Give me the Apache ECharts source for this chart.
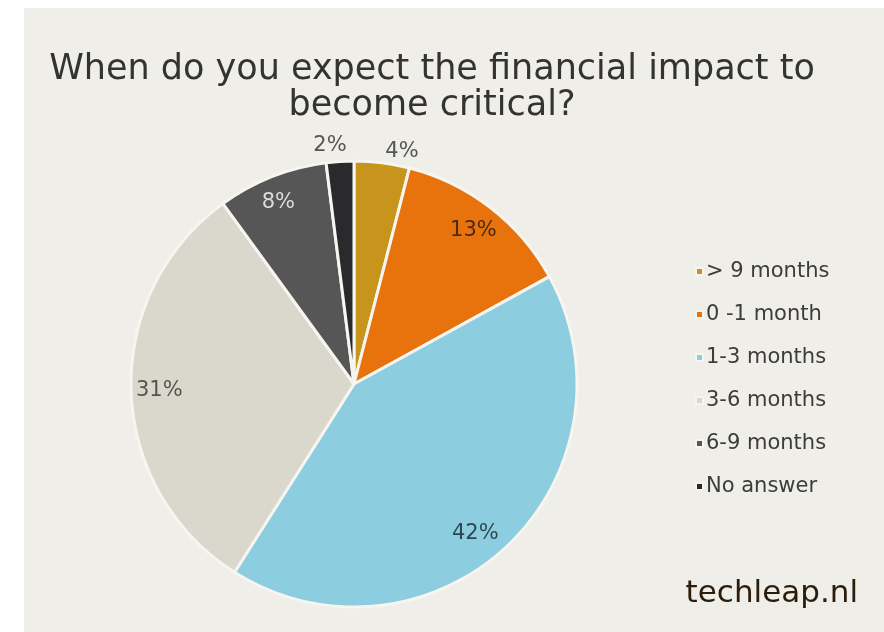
<!DOCTYPE html>
<html>
<head>
<meta charset="utf-8">
<script src="https://cdn.jsdelivr.net/npm/echarts@6/dist/echarts.min.js"></script>
<style>
html, body { margin: 0; padding: 0; background: #ffffff; }
#chart { width: 884px; height: 632px; }
</style>
</head>
<body>
<div id="chart"></div>
<script>
var categories = ['> 9 months', '0 -1 month', '1-3 months', '3-6 months', '6-9 months', 'No answer'];
var shares = [4, 13, 42, 31, 8, 2];
var colors = ['#c8951c', '#e8720c', '#8dcde0', '#dad7cc', '#555655', '#2a2a2d'];
var labelColors = ['#555555', '#4a2a10', '#2c4854', '#555550', '#dcdcd8', '#555555'];

var FONT = '"DejaVu Sans", sans-serif';
var center = [354, 384];
var R = 223;
var BG = '#efeee8';

// labels in the picture are not exactly at slice middles, nudge a bit
var labelPad = {
    '> 9 months': [0, 0, 0, 36],
    'No answer': [0, 18, 0, 0],
    '1-3 months': [0, 24, 0, 0],
    '6-9 months': [0, 8, 0, 0]
};
// pushing a label down: blank first line of given height
var labelDrop = { '1-3 months': 16, '> 9 months': 10 };

function makeData(filter) {
    return categories.map(function (name, i) {
        var label = {
            show: filter(shares[i]),
            color: labelColors[i],
            padding: labelPad[name] || 0
        };
        if (labelDrop[name]) {
            label.formatter = '\n{c}%';
            label.lineHeight = labelDrop[name];
        }
        return { name: name, value: shares[i], label: label };
    });
}

var chart = echarts.init(document.getElementById('chart'));

chart.setOption({
    backgroundColor: '#ffffff',
    color: colors,
    graphic: [{
        type: 'rect',
        z: -10,
        shape: { x: 24, y: 8, width: 860, height: 624 },
        style: { fill: BG }
    }, {
        type: 'text',
        right: 26,
        top: 578,
        style: {
            text: 'techleap.nl',
            font: '31px "DejaVu Sans", sans-serif',
            fill: '#2a1d0c'
        }
    }],
    title: {
        text: 'When do you expect the financial impact to\nbecome critical?',
        left: 427,
        top: 47,
        textAlign: 'center',
        textStyle: {
            fontFamily: FONT,
            fontSize: 35,
            fontWeight: 'normal',
            color: '#333333',
            lineHeight: 36
        }
    },
    legend: {
        orient: 'vertical',
        left: 690,
        top: 256,
        icon: 'rect',
        itemWidth: 7,
        itemHeight: 7,
        itemGap: 22,
        selectedMode: false,
        data: categories,
        textStyle: {
            fontFamily: FONT,
            fontSize: 21,
            color: '#3c3c3c',
            padding: [0, 0, 0, -2]
        }
    },
    series: [{
        type: 'pie',
        center: center,
        radius: [0, R],
        startAngle: 90,
        clockwise: true,
        silent: true,
        animation: false,
        label: { show: false },
        labelLine: { show: false },
        itemStyle: { borderColor: '#f6f5f0', borderWidth: 3 },
        data: categories.map(function (name, i) { return { name: name, value: shares[i] }; })
    }, {
        type: 'pie',
        center: center,
        radius: [R * 0.72, R],
        startAngle: 90,
        silent: true,
        animation: false,
        legendHoverLink: false,
        itemStyle: { color: 'rgba(0,0,0,0)' },
        label: {
            position: 'inside',
            formatter: '{c}%',
            fontFamily: FONT,
            fontSize: 21
        },
        labelLine: { show: false },
        data: makeData(function (v) { return v >= 8; })
    }, {
        type: 'pie',
        center: center,
        radius: [R, R + 26],
        startAngle: 90,
        silent: true,
        animation: false,
        legendHoverLink: false,
        itemStyle: { color: 'rgba(0,0,0,0)' },
        label: {
            position: 'inside',
            formatter: '{c}%',
            fontFamily: FONT,
            fontSize: 21
        },
        labelLine: { show: false },
        data: makeData(function (v) { return v < 8; })
    }]
});
</script>
</body>
</html>
